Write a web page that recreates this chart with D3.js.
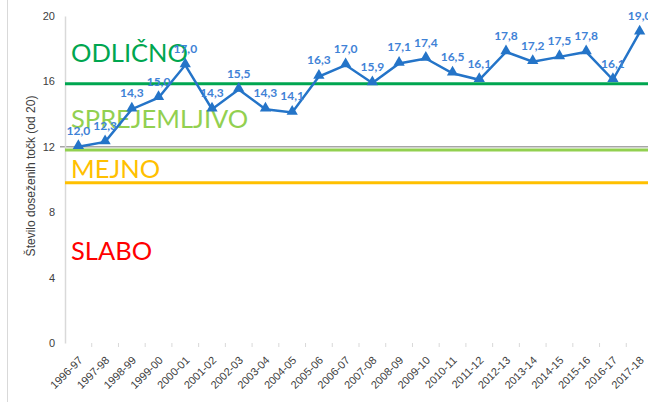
<!DOCTYPE html>
<html>
<head>
<meta charset="utf-8">
<script src="https://cdn.jsdelivr.net/npm/d3@7"></script>
<style>
  body { margin: 0; background: #fff; }
  svg { display: block; font-family: Lato, "Open Sans", sans-serif; }
</style>
</head>
<body>
<svg id="chart" width="648" height="402"></svg>
<script>
// data
var years = ['1996-97','1997-98','1998-99','1999-00','2000-01','2001-02','2002-03',
  '2003-04','2004-05','2005-06','2006-07','2007-08','2008-09','2009-10','2010-11',
  '2011-12','2012-13','2013-14','2014-15','2015-16','2016-17','2017-18'];
var points = [12.0, 12.3, 14.3, 15.0, 17.0, 14.3, 15.5, 14.3, 14.1, 16.3, 17.0,
  15.9, 17.1, 17.4, 16.5, 16.1, 17.8, 17.2, 17.5, 17.8, 16.1, 19.0];
var yTicks = [0, 4, 8, 12, 16, 20];

// grading zones: threshold line + label
var zoneNames = ['ODLIČNO', 'SPREJEMLJIVO', 'MEJNO', 'SLABO'];
var zoneLines = [15.85, 11.8, 9.8, null];
var zoneLabelY = [17.2, 13.15, 10.1, 5.1];
var zoneColors = ['#00A650', '#92D050', '#FFC000', '#FF0000'];

(function() {
var svg = d3.select('#chart'),
    pL = 65, pR = 653, pT = 16, pB = 343;

var x = d3.scaleBand().domain(years).range([pL, pR]);
var y = d3.scaleLinear().domain([0, 20]).range([pB, pT]);

// outer frame line on the left
svg.append('line')
  .attr('x1', 7.5).attr('x2', 7.5).attr('y1', 0).attr('y2', 402)
  .attr('stroke', '#d9d9d9').attr('stroke-width', 1);

// gridline at 12
svg.append('line')
  .attr('x1', 60).attr('x2', 648)
  .attr('y1', y(12)).attr('y2', y(12))
  .attr('stroke', '#a6a6a6').attr('stroke-width', 1.5);

// y axis
var yAxis = svg.append('g')
  .attr('transform', 'translate(' + pL + ',0)')
  .call(d3.axisLeft(y).tickValues(yTicks).tickSize(0).tickPadding(10));
yAxis.select('.domain').attr('stroke', '#d9d9d9').attr('stroke-width', 1.5);
yAxis.selectAll('text')
  .attr('fill', '#404040').style('font-size', '11px')
  .style('font-family', '"Liberation Sans", sans-serif');

// x axis (ticks between categories only)
var xAxis = svg.append('g')
  .attr('transform', 'translate(0,' + pB + ')');
xAxis.selectAll('line')
  .data(years.slice(1))
  .enter().append('line')
  .attr('x1', function(d) { return x(d); })
  .attr('x2', function(d) { return x(d); })
  .attr('y1', 0).attr('y2', 4)
  .attr('stroke', '#d9d9d9');
xAxis.selectAll('text')
  .data(years)
  .enter().append('text')
  .attr('transform', function(d) {
    return 'translate(' + (x(d) + x.bandwidth() / 2 + 5) + ',18) rotate(-45)';
  })
  .attr('text-anchor', 'end')
  .attr('fill', '#404040')
  .style('font-size', '11px')
  .style('font-family', '"Liberation Sans", sans-serif')
  .text(function(d) { return d; });

// y axis title
svg.append('text')
  .attr('transform', 'translate(35,176) rotate(-90)')
  .attr('text-anchor', 'middle')
  .attr('fill', '#404040')
  .style('font-size', '12px')
  .style('font-family', '"Liberation Sans", sans-serif')
  .text('Število doseženih točk (od 20)');

// zone lines and labels
zoneNames.forEach(function(name, i) {
  if (zoneLines[i] != null) {
    svg.append('line')
      .attr('x1', pL).attr('x2', 648)
      .attr('y1', y(zoneLines[i])).attr('y2', y(zoneLines[i]))
      .attr('stroke', zoneColors[i]).attr('stroke-width', 3);
  }
  svg.append('text')
    .attr('x', 71).attr('y', y(zoneLabelY[i]))
    .attr('fill', zoneColors[i])
    .style('font-size', '25.5px')
    .text(name);
});

// series line
var cx = function(d, i) { return x(years[i]) + x.bandwidth() / 2; };
var line = d3.line()
  .x(function(d, i) { return cx(d, i); })
  .y(function(d) { return y(d); });

svg.append('path')
  .datum(points)
  .attr('d', line)
  .attr('fill', 'none')
  .attr('stroke', '#2474C8')
  .attr('stroke-width', 2.5);

svg.selectAll('.mark')
  .data(points)
  .enter().append('path')
  .attr('class', 'mark')
  .attr('d', d3.symbol().type(d3.symbolTriangle).size(55))
  .attr('transform', function(d, i) { return 'translate(' + cx(d, i) + ',' + (y(d) - 1) + ')'; })
  .attr('fill', '#2474C8');

svg.selectAll('.lbl')
  .data(points)
  .enter().append('text')
  .attr('class', 'lbl')
  .attr('x', function(d, i) { return cx(d, i); })
  .attr('y', function(d) { return y(d) - 12; })
  .attr('text-anchor', 'middle')
  .attr('fill', '#3F82D6')
  .style('font-size', '12px')
  .style('font-weight', 'bold')
  .text(function(d) { return d.toFixed(1).replace('.', ','); });
})();
</script>
</body>
</html>
